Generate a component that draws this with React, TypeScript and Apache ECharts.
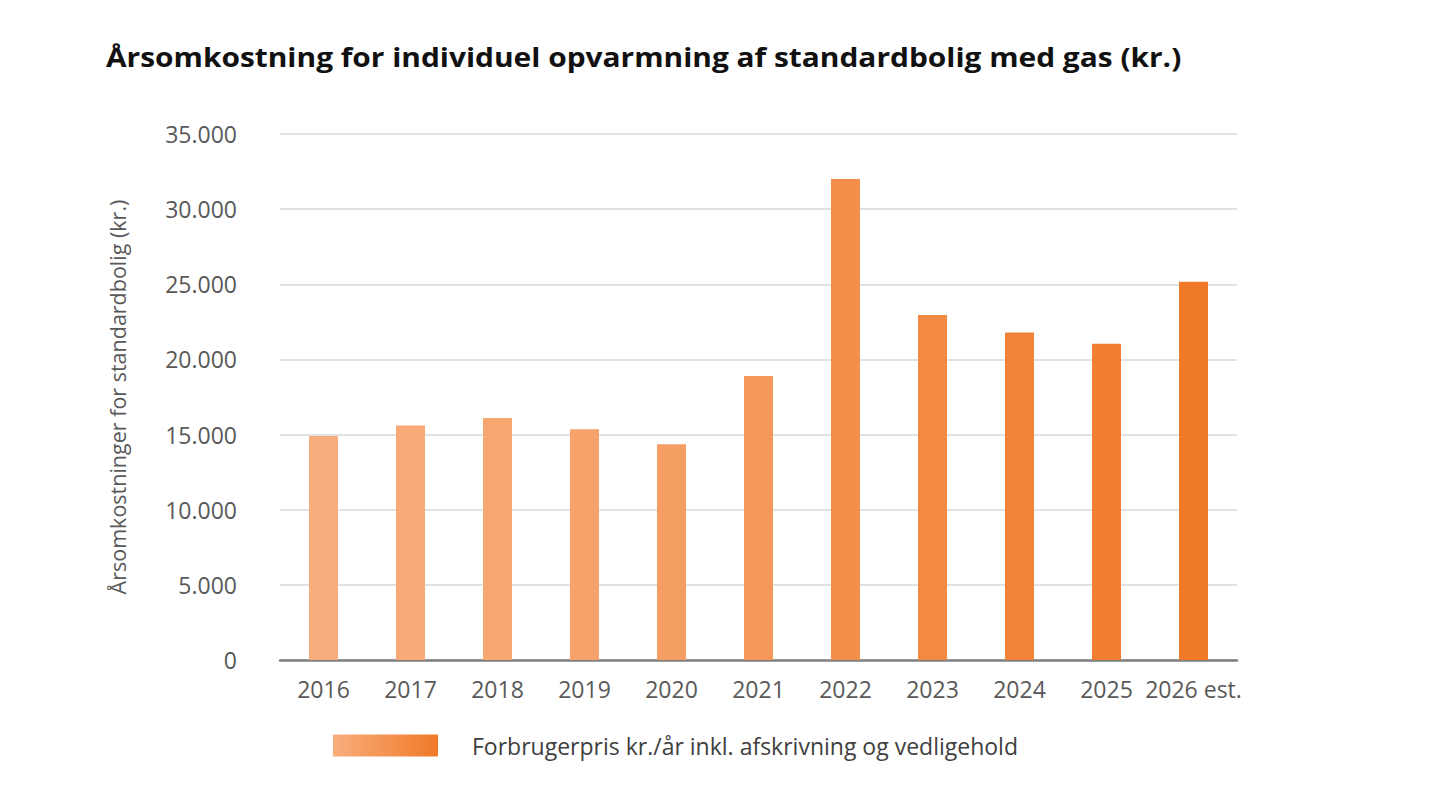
import React, { useEffect, useRef } from "react";
import * as echarts from "echarts";

const categories = ["2016", "2017", "2018", "2019", "2020", "2021", "2022", "2023", "2024", "2025", "2026 est."];
const values = [14900, 15600, 16100, 15350, 14350, 18900, 32000, 22950, 21800, 21050, 25170];
const barColors = ["#F8AE7C", "#F7AA75", "#F7A770", "#F6A26A", "#F59E63", "#F5985A", "#F48F4B", "#F38A43", "#F2843A", "#F17E31", "#F07A28"];
const yTicks = { min: 0, max: 35000, interval: 5000 };
const titleText = "Årsomkostning for individuel opvarmning af standardbolig med gas (kr.)";
const yName = "Årsomkostninger for standardbolig (kr.)";
const seriesName = "Forbrugerpris kr./år inkl. afskrivning og vedligehold";

const fmt = (v: number) => String(v).replace(/\B(?=(\d{3})+(?!\d))/g, ".");

export default function App() {
  const ref = useRef<HTMLDivElement>(null);
  useEffect(() => {
    if (!ref.current) return;
    const chart = echarts.init(ref.current, null, { renderer: "svg" });
    const font = "Open Sans";
    chart.setOption({
      animation: false,
      backgroundColor: "#ffffff",
      graphic: [
        {
          type: "text",
          x: 106,
          y: 57,
          scaleX: 1.15,
          style: {
            text: titleText,
            fontFamily: font,
            fontWeight: "bold",
            fontSize: 26,
            fill: "#111111",
            textVerticalAlign: "middle",
          },
        },
      ],
      legend: {
        left: 333,
        top: 734,
        padding: 0,
        itemWidth: 105,
        itemHeight: 22,
        icon: "rect",
        data: [seriesName],
        textStyle: { fontFamily: font, fontSize: 23, color: "#404040", padding: [0, 0, 0, 29] },
      },
      grid: { left: 280, right: 203, top: 134, bottom: 142 },
      xAxis: {
        type: "category",
        data: categories,
        axisLine: { lineStyle: { color: "#7f7f7f", width: 2.5 } },
        axisTick: { show: false },
        axisLabel: { interval: 0, fontFamily: font, fontSize: 23, color: "#595959", margin: 17 },
      },
      yAxis: {
        type: "value",
        min: yTicks.min,
        max: yTicks.max,
        interval: yTicks.interval,
        name: yName,
        nameLocation: "middle",
        nameGap: 152,
        nameTextStyle: { fontFamily: font, fontSize: 21.5, color: "#595959" },
        axisLine: { show: false },
        axisTick: { show: false },
        axisLabel: { fontFamily: font, fontSize: 23, color: "#595959", margin: 43, formatter: (v: number) => fmt(v) },
        splitLine: { lineStyle: { color: "#d9d9d9", width: 1.5 } },
      },
      series: [
        {
          name: seriesName,
          type: "bar",
          barWidth: 29,
          itemStyle: {
            color: new echarts.graphic.LinearGradient(0, 0, 1, 0, [
              { offset: 0, color: barColors[0] },
              { offset: 1, color: barColors[barColors.length - 1] },
            ]),
          },
          data: values.map((v, i) => ({ value: v, itemStyle: { color: barColors[i] } })),
        },
      ],
    });
    return () => chart.dispose();
  }, []);
  return <div ref={ref} style={{ position: "fixed", left: 0, top: 0, width: 1440, height: 802 }} />;
}
